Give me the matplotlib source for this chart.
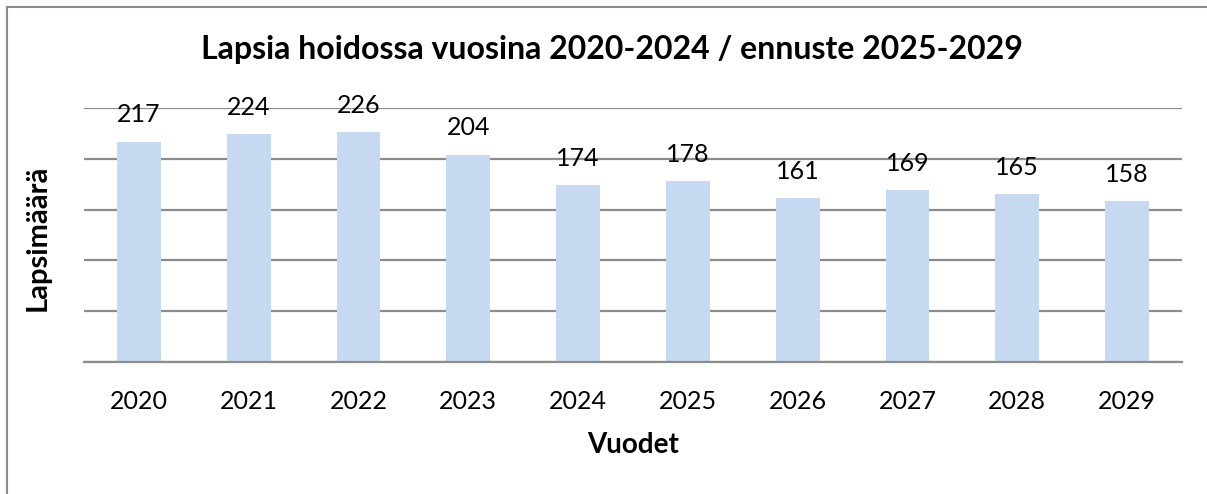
import matplotlib.pyplot as plt
from matplotlib.lines import Line2D

years = ["2020", "2021", "2022", "2023", "2024", "2025", "2026", "2027", "2028", "2029"]
children = [217, 224, 226, 204, 174, 178, 161, 169, 165, 158]

title = "Lapsia hoidossa vuosina 2020-2024 / ennuste 2025-2029"
xlabel = "Vuodet"
ylabel = "Lapsimäärä"

plt.rcParams["font.family"] = ["Lato", "DejaVu Sans"]

W, H = 1207, 494
fig = plt.figure(figsize=(W / 100, H / 100), dpi=100)
ax = fig.add_axes([84 / W, 1 - 362 / H, (1182 - 84) / W, (362 - 108) / H])

x = range(len(years))
ax.bar(x, children, width=0.4, color="#C6D9F1", zorder=2)
for xi, v in zip(x, children):
    ax.annotate(str(v), (xi, v), xytext=(0, 11), textcoords="offset points",
                ha="center", va="bottom", fontsize=18, color="#000000", zorder=3)

ax.set_xlim(-0.5, len(years) - 0.5)
ax.set_ylim(0, 250)
ax.set_yticks(range(0, 251, 50))
ax.yaxis.grid(True, color="#8c8c8c", lw=1.6, zorder=1)
ax.tick_params(axis="y", left=False, labelleft=False)
ax.set_xticks(list(x))
ax.set_xticklabels(years, fontsize=18)
ax.tick_params(axis="x", bottom=False, pad=17)
for s in ["top", "right", "left"]:
    ax.spines[s].set_visible(False)
ax.spines["bottom"].set_color("#8c8c8c")
ax.spines["bottom"].set_linewidth(1.6)

fig.text(633 / W, 1 - 445 / H, xlabel, fontsize=20, fontweight="bold", ha="center", va="center")
fig.text(38 / W, 1 - 238 / H, ylabel, rotation=90, fontsize=21, fontweight="bold",
         ha="center", va="center")
fig.text(612 / W, 1 - 50 / H, title, fontsize=23, fontweight="bold", ha="center", va="center")

# screenshot frame edges (left and top)
fig.add_artist(Line2D([7 / W, 7 / W], [0, 1 - 7 / H], color="#8c8c8c", lw=1.5))
fig.add_artist(Line2D([7 / W, 1], [1 - 7 / H, 1 - 7 / H], color="#8c8c8c", lw=1.5))

fig.savefig("out.png", dpi=100)
